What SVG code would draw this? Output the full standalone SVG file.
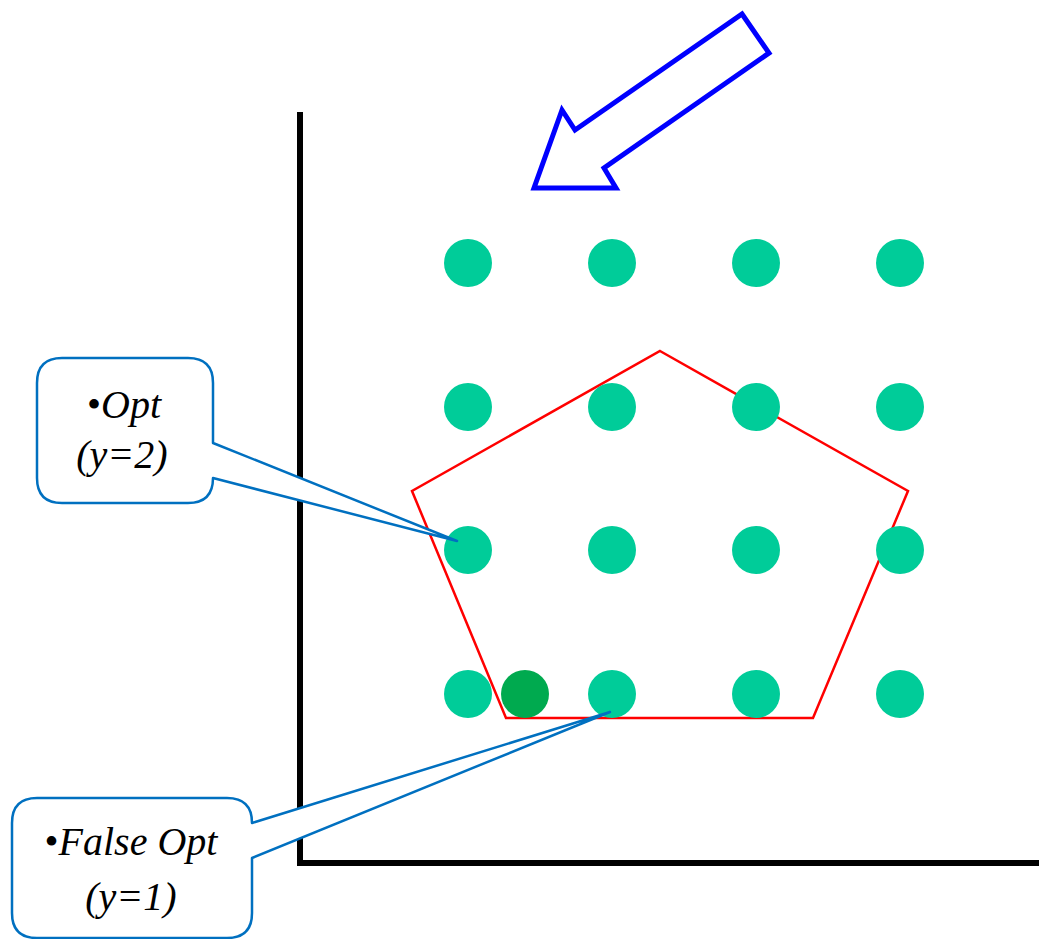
<svg xmlns="http://www.w3.org/2000/svg" width="1039" height="939" viewBox="0 0 1039 939">
<style>
.pt{fill:#00CC99}
.lbl{font-family:"Liberation Serif","Times New Roman",serif;font-size:40px;font-style:italic;fill:#000;text-anchor:middle}
.call{fill:#fff;stroke:#0070C0;stroke-width:2.5;stroke-linejoin:round}
</style>
<rect width="1039" height="939" fill="#fff"/>
<g id="axes" stroke="#000" stroke-width="6" fill="none">
<path d="M300,112 V863 H1039"/>
</g>
<g id="arrow">
<polygon points="742,14 769,53 604,168 616,188 534,188 562,110 575,130" fill="#fff" stroke="#0000FF" stroke-width="5" stroke-linejoin="miter"/>
</g>
<g id="polytope">
<polygon points="660,351 908,491 813,718 506,718 412,491" fill="none" stroke="#FF0000" stroke-width="2.5"/>
</g>
<g id="points">
<circle class="pt" cx="468" cy="263" r="24"/><circle class="pt" cx="612" cy="263" r="24"/><circle class="pt" cx="756" cy="263" r="24"/><circle class="pt" cx="900" cy="263" r="24"/>
<circle class="pt" cx="468" cy="407" r="24"/><circle class="pt" cx="612" cy="407" r="24"/><circle class="pt" cx="756" cy="407" r="24"/><circle class="pt" cx="900" cy="407" r="24"/>
<circle class="pt" cx="468" cy="550" r="24"/><circle class="pt" cx="612" cy="550" r="24"/><circle class="pt" cx="756" cy="550" r="24"/><circle class="pt" cx="900" cy="550" r="24"/>
<circle class="pt" cx="468" cy="694" r="24"/><circle class="pt" cx="612" cy="694" r="24"/><circle class="pt" cx="756" cy="694" r="24"/><circle class="pt" cx="900" cy="694" r="24"/>
<circle cx="525" cy="694" r="24" fill="#00AA4F"/>
</g>
<g id="callout-opt">
<path class="call" d="M62,358 H188 Q213,358 213,383 V443 L457,541 L213,478 V478 Q213,503 188,503 H62 Q37,503 37,478 V383 Q37,358 62,358 Z"/>
<text class="lbl" x="124" y="418"><tspan font-style="normal">•</tspan>Opt</text>
<text class="lbl" x="122" y="468">(y=2)</text>
</g>
<g id="callout-false">
<path class="call" d="M37,798 H227 Q252,798 252,823 L610,712 L252,858 V913 Q252,938 227,938 H37 Q12,938 12,913 V823 Q12,798 37,798 Z"/>
<text class="lbl" x="131" y="855"><tspan font-style="normal">•</tspan>False Opt</text>
<text class="lbl" x="131" y="910">(y=1)</text>
</g>
</svg>
